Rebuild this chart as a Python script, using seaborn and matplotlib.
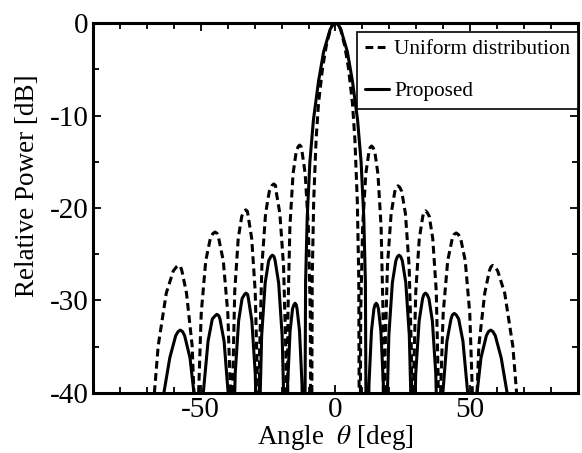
import matplotlib
matplotlib.use('Agg')
import matplotlib.pyplot as plt
from matplotlib.ticker import MultipleLocator
import pandas as pd
import seaborn as sns

# Patrones de radiación (ángulo en grados, potencia relativa en dB)
# Los puntos a -60 dB son los nulos (quedan por debajo del eje)

# Distribución uniforme (línea discontinua)
uniform_angle_left = [-69.5, -68.4, -65.8, -62.8, -60.2, -59.0, -58.2, -57.5, -57.0, -55.3, -53.2, -52.0,
                      -51.4, -50.88, -49.84, -48.15, -46.46, -45.48, -44.7, -43.92, -43.34, -41.65, -39.96, -38.92,
                      -38.4, -38.1, -37.4, -36.1, -34.8, -33.89, -33.3, -32.71, -32.4, -31.1, -29.8, -29.0,
                      -28.6, -28.18, -27.33, -25.95, -24.57, -23.54, -22.9, -22.26, -22.03, -20.65, -19.27, -18.42,
                      -18.0, -17.64, -16.92, -15.75, -14.58, -13.84, -13.3, -12.76, -12.42, -11.25, -10.08, -9.36,
                      -9.0, -8.64, -8.1, -7.2, -6.3, -4.8, -3.4, -1.8, -0.9]
uniform_db_left = [-60, -44.2, -34.9, -29.2, -26.8, -26.36, -26.2, -26.36, -26.8, -29.2, -34.9, -44.2,
                   -60, -40.7, -31.4, -25.7, -23.3, -22.76, -22.6, -22.76, -23.3, -25.7, -31.4, -40.7,
                   -60, -38.3, -29.0, -23.3, -20.9, -20.36, -20.2, -20.36, -20.9, -23.3, -29.0, -38.3,
                   -60, -35.6, -26.3, -20.6, -18.2, -17.56, -17.4, -17.56, -18.2, -20.6, -26.3, -35.6,
                   -60, -31.3, -22.0, -16.3, -13.9, -13.36, -13.2, -13.36, -13.9, -16.3, -22.0, -31.3,
                   -60, -27.6, -19.3, -12.6, -8.68, -4.86, -2.42, -0.58, -0.14]
uniform_angle_right = [0, 0.9, 1.8, 3.4, 4.8, 6.3, 7.2, 8.1, 8.64,
                       9.0, 9.36, 10.08, 11.25, 12.42, 12.86, 13.4, 13.94, 14.58, 15.75, 16.92, 17.64,
                       18.0, 18.42, 19.27, 20.65, 22.03, 22.56, 23.2, 23.84, 24.57, 25.95, 27.33, 28.18,
                       28.6, 29.0, 29.8, 31.1, 32.4, 32.81, 33.4, 33.99, 34.8, 36.1, 37.4, 38.1,
                       38.4, 38.92, 39.96, 41.65, 43.34, 44.02, 44.8, 45.58, 46.46, 48.15, 49.84, 50.88,
                       51.4, 52.0, 53.2, 55.4, 57.1, 57.7, 58.4, 59.2, 60.2, 62.8, 65.8, 68.4, 69.5]
uniform_db_right = [0, -0.14, -0.58, -2.42, -4.86, -8.68, -12.6, -19.3, -27.6,
                    -60, -31.3, -22.0, -16.3, -13.9, -13.46, -13.3, -13.46, -13.9, -16.3, -22.0, -31.3,
                    -60, -35.6, -26.3, -20.6, -18.2, -17.76, -17.6, -17.76, -18.2, -20.6, -26.3, -35.6,
                    -60, -38.3, -29.0, -23.3, -20.9, -20.46, -20.3, -20.46, -20.9, -23.3, -29.0, -38.3,
                    -60, -40.7, -31.4, -25.7, -23.3, -22.86, -22.7, -22.86, -23.3, -25.7, -31.4, -40.7,
                    -60, -44.2, -34.9, -29.2, -26.8, -26.36, -26.2, -26.36, -26.8, -29.2, -34.9, -44.2, -60]

# Propuesta (línea continua)
proposed_angle_left = [-67.0, -66.0, -64.8, -61.5, -59.3, -58.4, -57.6, -56.8, -56.0, -54.0, -51.8, -50.9,
                       -50.4, -49.9, -49.1, -47.3, -45.72, -44.72, -44.0, -43.28, -42.88, -41.35, -39.82, -38.87,
                       -38.4, -38.01, -37.22, -35.95, -34.68, -33.79, -33.2, -32.61, -32.32, -31.05, -29.78, -28.99,
                       -28.6, -28.2, -27.4, -26.1, -24.8, -24.0, -23.4, -22.8, -22.4, -21.1, -19.8, -19.0,
                       -18.6, -18.32, -17.76, -16.85, -15.94, -15.42, -15.0, -14.58, -14.26, -13.35, -12.44, -11.88,
                       -11.6, -11.1, -10.5, -9.5, -8.2, -6.3, -4.4, -2.0, -1.0]
proposed_db_left = [-60, -51.2, -41.9, -36.2, -33.8, -33.36, -33.2, -33.36, -33.8, -36.2, -41.9, -51.2,
                    -60, -49.4, -40.1, -34.4, -32.0, -31.66, -31.5, -31.66, -32.0, -34.4, -40.1, -49.4,
                    -60, -47.2, -37.9, -32.2, -29.8, -29.36, -29.2, -29.36, -29.8, -32.2, -37.9, -47.2,
                    -60, -43.1, -33.8, -28.1, -25.7, -25.26, -25.1, -25.26, -25.7, -28.1, -33.8, -43.1,
                    -60, -48.3, -39.0, -33.3, -30.9, -30.46, -30.3, -30.46, -30.9, -33.3, -39.0, -48.3,
                    -60, -28.0, -21.0, -15.0, -10.5, -6.3, -3.1, -0.7, -0.18]
proposed_angle_right = [0, 1.0, 2.0, 4.4, 6.3, 8.2, 9.5, 10.5, 11.1,
                        11.6, 11.88, 12.44, 13.35, 14.26, 14.68, 15.1, 15.52, 15.94, 16.85, 17.76, 18.32,
                        18.6, 19.0, 19.8, 21.1, 22.4, 23.0, 23.6, 24.2, 24.8, 26.1, 27.4, 28.2,
                        28.6, 28.99, 29.78, 31.05, 32.32, 32.81, 33.4, 33.99, 34.68, 35.95, 37.22, 38.01,
                        38.4, 38.87, 39.82, 41.35, 42.88, 43.38, 44.1, 44.82, 45.72, 47.3, 49.1, 49.9,
                        50.4, 50.9, 51.8, 54.0, 56.0, 56.8, 57.6, 58.4, 59.3, 61.5, 64.8, 66.0, 67.0]
proposed_db_right = [0, -0.18, -0.7, -3.1, -6.3, -10.5, -15.0, -21.0, -28.0,
                     -60, -48.3, -39.0, -33.3, -30.9, -30.46, -30.3, -30.46, -30.9, -33.3, -39.0, -48.3,
                     -60, -43.1, -33.8, -28.1, -25.7, -25.26, -25.1, -25.26, -25.7, -28.1, -33.8, -43.1,
                     -60, -47.2, -37.9, -32.2, -29.8, -29.36, -29.2, -29.36, -29.8, -32.2, -37.9, -47.2,
                     -60, -49.4, -40.1, -34.4, -32.0, -31.56, -31.4, -31.56, -32.0, -34.4, -40.1, -49.4,
                     -60, -51.2, -41.9, -36.2, -33.8, -33.36, -33.2, -33.36, -33.8, -36.2, -41.9, -51.2, -60]

uniform = pd.DataFrame({'angle': uniform_angle_left + uniform_angle_right,
                        'db': uniform_db_left + uniform_db_right})
proposed = pd.DataFrame({'angle': proposed_angle_left + proposed_angle_right,
                         'db': proposed_db_left + proposed_db_right})

sns.set_theme(style='ticks')
plt.rcParams['font.family'] = ['Liberation Serif', 'DejaVu Serif']
plt.rcParams['mathtext.fontset'] = 'stix'
plt.rcParams['axes.unicode_minus'] = False
plt.rcParams['lines.scale_dashes'] = False
plt.rcParams['text.color'] = 'black'
plt.rcParams['axes.labelcolor'] = 'black'

fig = plt.figure(figsize=(5.82, 4.53), dpi=100)
ax = fig.add_axes([0.1598, 0.1325, 0.8333, 0.8167])

sns.lineplot(data=uniform, x='angle', y='db', color='black', linewidth=2.2,
             linestyle='--', dash_joinstyle='round', label='Uniform distribution', ax=ax)
ax.lines[-1].set_dashes([5.6, 3.2])
sns.lineplot(data=proposed, x='angle', y='db', color='black', linewidth=2.2,
             solid_joinstyle='round', label='Proposed', ax=ax)

ax.set_xlim(-90, 90)
ax.set_ylim(-40, 0)
ax.set_xticks([-50, 0, 50])
ax.xaxis.set_minor_locator(MultipleLocator(10))
ax.yaxis.set_major_locator(MultipleLocator(10))
ax.yaxis.set_minor_locator(MultipleLocator(5))
ax.tick_params(which='both', direction='in', top=True, right=True,
               colors='black', width=1.3, labelsize=21, pad=3)
ax.tick_params(which='major', length=6)
ax.tick_params(which='minor', length=4)
for s in ax.spines.values():
    s.set_linewidth(2.2)
    s.set_color('black')

ax.set_xlabel(r'Angle  $\theta$ [deg]', fontsize=19.5, labelpad=0)
ax.set_ylabel('Relative Power [dB]', fontsize=19.5, labelpad=7)
ax.yaxis.label.set_y(0.56)

leg = ax.legend(loc='upper right', bbox_to_anchor=(1.0, 0.976), borderaxespad=0,
                fontsize=15.3, frameon=True, fancybox=False, edgecolor='black',
                framealpha=1, handlelength=1.15, handletextpad=0.25,
                borderpad=0.35, labelspacing=1.05)
leg.get_frame().set_linewidth(1.2)

plt.savefig('out.png', dpi=100)
